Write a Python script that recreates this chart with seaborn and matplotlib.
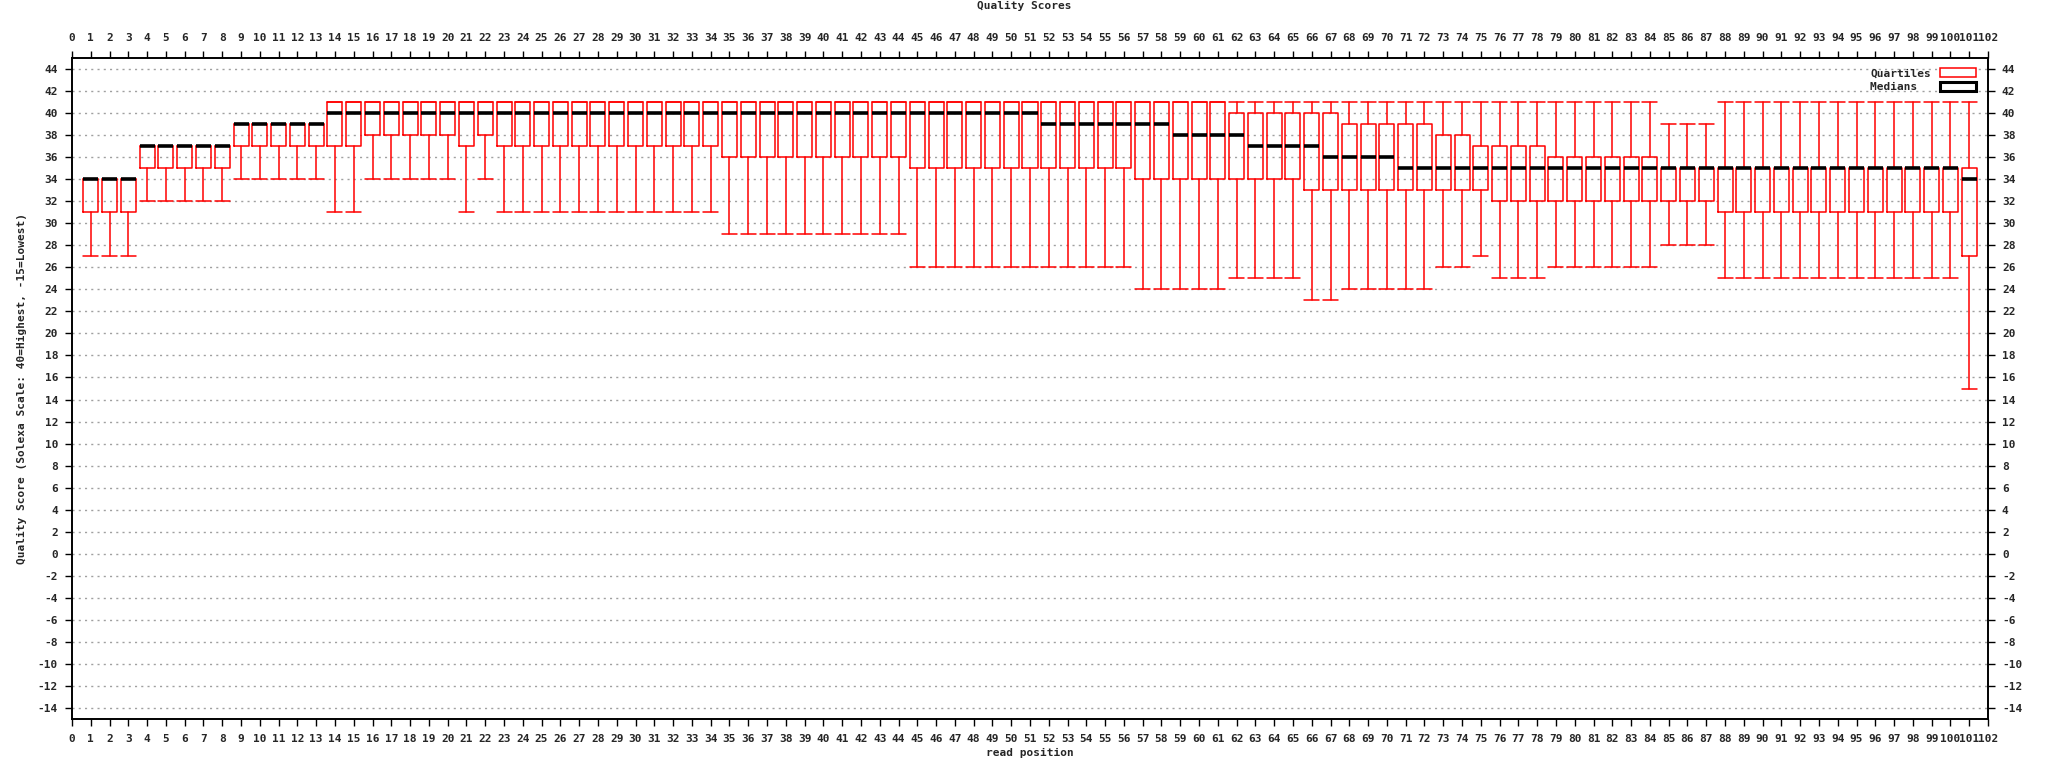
import matplotlib
matplotlib.use("Agg")
import matplotlib.pyplot as plt
import matplotlib.ticker as ticker
from matplotlib.patches import Patch
import seaborn as sns

# Per-position box statistics (positions 1..101)
positions = list(range(1, 102))

whislo = [27, 27, 27, 32, 32, 32, 32, 32, 34, 34,
          34, 34, 34, 31, 31, 34, 34, 34, 34, 34,
          31, 34, 31, 31, 31, 31, 31, 31, 31, 31,
          31, 31, 31, 31, 29, 29, 29, 29, 29, 29,
          29, 29, 29, 29, 26, 26, 26, 26, 26, 26,
          26, 26, 26, 26, 26, 26, 24, 24, 24, 24,
          24, 25, 25, 25, 25, 23, 23, 24, 24, 24,
          24, 24, 26, 26, 27, 25, 25, 25, 26, 26,
          26, 26, 26, 26, 28, 28, 28, 25, 25, 25,
          25, 25, 25, 25, 25, 25, 25, 25, 25, 25,
          15]

q1 = [31, 31, 31, 35, 35, 35, 35, 35, 37, 37,
      37, 37, 37, 37, 37, 38, 38, 38, 38, 38,
      37, 38, 37, 37, 37, 37, 37, 37, 37, 37,
      37, 37, 37, 37, 36, 36, 36, 36, 36, 36,
      36, 36, 36, 36, 35, 35, 35, 35, 35, 35,
      35, 35, 35, 35, 35, 35, 34, 34, 34, 34,
      34, 34, 34, 34, 34, 33, 33, 33, 33, 33,
      33, 33, 33, 33, 33, 32, 32, 32, 32, 32,
      32, 32, 32, 32, 32, 32, 32, 31, 31, 31,
      31, 31, 31, 31, 31, 31, 31, 31, 31, 31,
      27]

med = [34, 34, 34, 37, 37, 37, 37, 37, 39, 39,
       39, 39, 39, 40, 40, 40, 40, 40, 40, 40,
       40, 40, 40, 40, 40, 40, 40, 40, 40, 40,
       40, 40, 40, 40, 40, 40, 40, 40, 40, 40,
       40, 40, 40, 40, 40, 40, 40, 40, 40, 40,
       40, 39, 39, 39, 39, 39, 39, 39, 38, 38,
       38, 38, 37, 37, 37, 37, 36, 36, 36, 36,
       35, 35, 35, 35, 35, 35, 35, 35, 35, 35,
       35, 35, 35, 35, 35, 35, 35, 35, 35, 35,
       35, 35, 35, 35, 35, 35, 35, 35, 35, 35,
       34]

q3 = [34, 34, 34, 37, 37, 37, 37, 37, 39, 39,
      39, 39, 39, 41, 41, 41, 41, 41, 41, 41,
      41, 41, 41, 41, 41, 41, 41, 41, 41, 41,
      41, 41, 41, 41, 41, 41, 41, 41, 41, 41,
      41, 41, 41, 41, 41, 41, 41, 41, 41, 41,
      41, 41, 41, 41, 41, 41, 41, 41, 41, 41,
      41, 40, 40, 40, 40, 40, 40, 39, 39, 39,
      39, 39, 38, 38, 37, 37, 37, 37, 36, 36,
      36, 36, 36, 36, 35, 35, 35, 35, 35, 35,
      35, 35, 35, 35, 35, 35, 35, 35, 35, 35,
      35]

whishi = [34, 34, 34, 37, 37, 37, 37, 37, 39, 39,
          39, 39, 39, 41, 41, 41, 41, 41, 41, 41,
          41, 41, 41, 41, 41, 41, 41, 41, 41, 41,
          41, 41, 41, 41, 41, 41, 41, 41, 41, 41,
          41, 41, 41, 41, 41, 41, 41, 41, 41, 41,
          41, 41, 41, 41, 41, 41, 41, 41, 41, 41,
          41, 41, 41, 41, 41, 41, 41, 41, 41, 41,
          41, 41, 41, 41, 41, 41, 41, 41, 41, 41,
          41, 41, 41, 41, 39, 39, 39, 41, 41, 41,
          41, 41, 41, 41, 41, 41, 41, 41, 41, 41,
          41]

x_ticks = list(range(0, 103))
y_ticks = list(range(-14, 46, 2))

sns.set_theme(style="white")
plt.rcParams['font.family'] = ['DejaVu Sans Mono']
plt.rcParams['font.weight'] = 'bold'
plt.rcParams['font.size'] = 8

fig = plt.figure(figsize=(20.48, 7.68), dpi=100)
ax = fig.add_axes([72 / 2048, 1 - 719 / 768, (1988 - 72) / 2048, (719 - 58) / 768])

stats = [dict(whislo=a, q1=b, med=c, q3=d, whishi=e, fliers=[])
         for a, b, c, d, e in zip(whislo, q1, med, q3, whishi)]

ax.bxp(stats, positions=positions, widths=0.8, capwidths=0.8, showfliers=False,
       manage_ticks=False,
       boxprops=dict(color='red', linewidth=1.1),
       whiskerprops=dict(color='red', linewidth=1.1),
       capprops=dict(color='red', linewidth=1.1),
       medianprops=dict(color='black', linewidth=2.6, solid_capstyle='butt'))

ax.set_xlim(0, 102)
ax.set_ylim(-15, 45)
ax.xaxis.set_major_locator(ticker.FixedLocator(x_ticks))
ax.yaxis.set_major_locator(ticker.FixedLocator(y_ticks))
ax.set_xticklabels([str(t) for t in x_ticks])
ax.set_yticklabels([str(t) for t in y_ticks])

ax.yaxis.grid(True, color='#a0a0a0', linestyle=(0, (1.5, 3)), linewidth=1)
ax.xaxis.grid(False)
ax.set_axisbelow(True)

for s in ax.spines.values():
    s.set_color('black')
    s.set_linewidth(1.4)

ax.tick_params(axis='x', which='both', bottom=True, top=True, labelbottom=True, labeltop=True,
               direction='out', length=5, width=1, color='black', pad=6, labelsize=8)
ax.tick_params(axis='y', which='both', left=True, right=True, labelleft=True, labelright=True,
               direction='out', length=5, width=1, color='black', pad=5, labelsize=8)

ax.set_xlabel('read position', fontsize=8, fontweight='bold', labelpad=3)
ax.set_ylabel('Quality Score (Solexa Scale: 40=Highest, -15=Lowest)', fontsize=8,
              fontweight='bold', labelpad=8)
fig.text(0.5, 1 - 6 / 768, 'Quality Scores', ha='center', va='center',
         fontsize=8, fontweight='bold')

# monospace labels padded to equal width so they line up on the left
handles = [Patch(facecolor='white', edgecolor='red', linewidth=1.1, label='Quartiles'),
           Patch(facecolor='white', edgecolor='black', linewidth=2.2, label='Medians  ')]
ax.legend(handles=handles, loc='upper right', bbox_to_anchor=(0.997, 0.995), frameon=False,
          markerfirst=False, fontsize=8, handlelength=3.2, handleheight=0.9,
          labelspacing=0.3, handletextpad=0.8, borderaxespad=0.2)

plt.savefig('out.png', dpi=100)
